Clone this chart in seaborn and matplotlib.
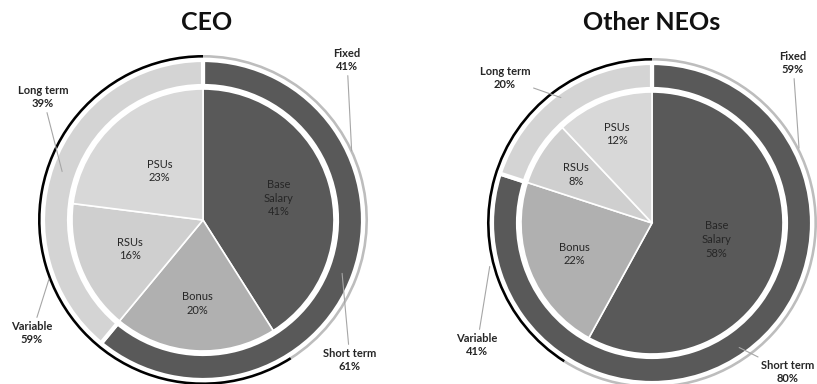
import matplotlib
matplotlib.use("Agg")
import numpy as np
import matplotlib.pyplot as plt
import seaborn as sns

# Pay mix (percent of total target pay)
titles = ["CEO", "Other NEOs"]
inner_labels = ["Base\nSalary", "Bonus", "RSUs", "PSUs"]
ceo_inner = [41, 20, 16, 23]
neo_inner = [58, 22, 8, 12]
term_labels = ["Short term", "Long term"]
ceo_term = [61, 39]
neo_term = [80, 20]
mix_labels = ["Fixed", "Variable"]
ceo_mix = [41, 59]
neo_mix = [59, 41]

# ---- layout (pixels, figure is 817 x 384) ----
W, H = 817, 384
CENTERS = [(203, 164), (652, 161)]
R_IN = 131
R_MID, MID_W = 160, 26
R_OUT, OUT_W = 165, 2.6
TITLE_POS = [(207, 23), (652, 23)]
# radial position of the inner labels (fraction of R_IN)
INNER_LBL_R = [[0.60, 0.64, 0.60, 0.50], [0.51, 0.64, 0.69, 0.73]]
# callouts: (text x, text y in image px, anchor angle deg, anchor radius)
TERM_CALLOUT = [[(350, 360, -21, 149), (43, 97, 161, 149)],
                [(788, 372, -55, 152), (505, 78, 126, 155)]]
MIX_CALLOUT = [[(347, 60, 25, 164), (32, 333, 201, 165)],
               [(793, 63, 27, 165), (477, 345, 195, 168)]]

DARK = "#595959"
INNER_COLORS = [DARK, "#b0b0b0", "#cfcfcf", "#d8d8d8"]
TERM_COLORS = [DARK, "#d4d4d4"]
MIX_COLORS = ["#bdbdbd", "#000000"]
TXT = "#262626"

sns.set_theme(style="white")
plt.rcParams["font.family"] = ["Lato", "DejaVu Sans"]

fig = plt.figure(figsize=(W / 100, H / 100), dpi=100)
ax = fig.add_axes([0, 0, 1, 1])

charts = [(ceo_inner, ceo_term, ceo_mix), (neo_inner, neo_term, neo_mix)]
for i, (inner, term, mix) in enumerate(charts):
    cx, cy = CENTERS[i]
    pie_kw = dict(center=(cx, cy), startangle=90, counterclock=False)

    wedges, _ = ax.pie(inner, colors=INNER_COLORS, radius=R_IN,
                       wedgeprops=dict(edgecolor="white", linewidth=1.2), **pie_kw)
    ax.pie(term, colors=TERM_COLORS, radius=R_MID,
           wedgeprops=dict(width=MID_W, edgecolor="white", linewidth=3), **pie_kw)
    ax.pie(mix, colors=MIX_COLORS, radius=R_OUT,
           wedgeprops=dict(width=OUT_W, edgecolor="none"), **pie_kw)

    # labels inside the inner wedges
    for w, lab, val, fr in zip(wedges, inner_labels, inner, INNER_LBL_R[i]):
        mid = np.radians((w.theta1 + w.theta2) / 2)
        ax.text(cx + fr * R_IN * np.cos(mid), cy + fr * R_IN * np.sin(mid),
                f"{lab}\n{val}%", ha="center", va="center", fontsize=8,
                color=TXT, linespacing=1.3)

    # callouts for the two outer rings
    for labs, vals, spots in [(term_labels, term, TERM_CALLOUT[i]),
                              (mix_labels, mix, MIX_CALLOUT[i])]:
        for lab, val, (tx, ty, ang, r) in zip(labs, vals, spots):
            a = np.radians(ang)
            ax.annotate(f"{lab}\n{val}%",
                        xy=(cx + r * np.cos(a), cy + r * np.sin(a)),
                        xytext=(tx, H - ty), ha="center", va="center",
                        fontsize=8, fontweight="bold", color=TXT, linespacing=1.3,
                        arrowprops=dict(arrowstyle="-", color="#a6a6a6", lw=0.8,
                                        shrinkA=0, shrinkB=0))

    tx, ty = TITLE_POS[i]
    ax.text(tx, H - ty, titles[i], ha="center", va="center", fontsize=18,
            fontweight="bold", color="#111111")

ax.set_xlim(0, W)
ax.set_ylim(0, H)
ax.set_aspect("equal")
ax.axis("off")
fig.savefig("out.png", dpi=100)
